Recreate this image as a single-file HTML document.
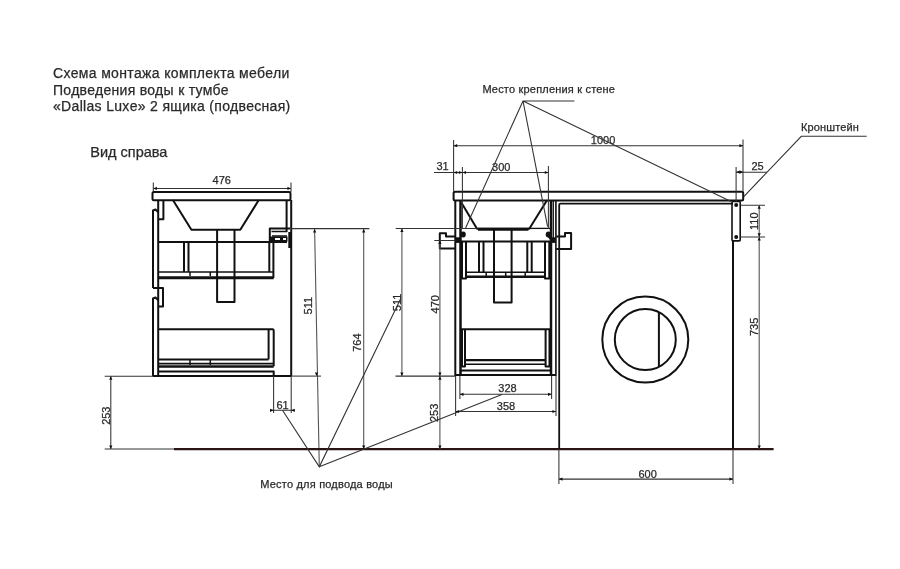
<!DOCTYPE html>
<html><head><meta charset="utf-8">
<style>
html,body{margin:0;padding:0;background:#fff;}
svg{display:block;will-change:transform;}
text{font-family:"Liberation Sans",sans-serif;fill:#2a2a2a;stroke:#2a2a2a;stroke-width:0.25;}
.m{stroke:#111;stroke-width:2;fill:none;stroke-linejoin:round;}
.d{stroke:#333;stroke-width:1.05;fill:none;}
.g{stroke:#555;stroke-width:1.1;fill:none;}
.l{stroke:#333;stroke-width:1.1;fill:none;}
.t{font-size:11px;}
</style></head><body>
<svg width="900" height="569" viewBox="0 0 900 569">
<rect width="900" height="569" fill="#fff"/>

<!-- TITLE -->
<text x="53" y="78.3" style="font-size:14px;letter-spacing:0.35px">Схема монтажа комплекта мебели</text>
<text x="53" y="94.6" style="font-size:14px;letter-spacing:0.3px">Подведения воды к тумбе</text>
<text x="53" y="110.6" style="font-size:14px;letter-spacing:0.32px">«Dallas Luxe» 2 ящика (подвесная)</text>
<text x="90.3" y="156.9" style="font-size:14.5px;letter-spacing:0px">Вид справа</text>

<!-- ============ LEFT CABINET ============ -->
<g id="lc">
  <!-- dim 476 -->
  <path class="d" d="M153.3,182.5V192 M291,182.5V192 M153.3,188.4H291"/>
  <text class="t" x="221.7" y="184.4" text-anchor="middle">476</text>
  <!-- countertop -->
  <rect class="m" x="152.5" y="192" width="138" height="8.2" rx="1.5"/>
  <!-- left side -->
  <path class="m" d="M153,376V298.5 L155.5,297.5 L158,300"/>
  <path class="m" d="M153,288V210.5 L155.5,209.5 L158,212"/>
  <path class="m" d="M158.2,200V376"/>
  <path class="m" d="M158.2,219.2H163.4V200"/>
  <path class="m" d="M153,288H163V306.6H158.2"/>
  <!-- basin -->
  <path class="m" d="M172.9,200L191.4,229.8H240.3L258.8,200"/>
  <!-- pipe -->
  <path class="m" d="M217.1,229.8V302H234.5V229.8"/>
  <!-- drawer 1 -->
  <path class="m" d="M158.2,242H287"/>
  <path class="m" d="M184,242V272 M188.5,242V272"/>
  <path class="m" d="M269.3,242V272 M273.4,242V278"/>
  <path class="m" style="stroke-width:1.6" d="M158.2,272H273.7"/>
  <path class="m" style="stroke-width:3" d="M158.2,277.7H273.7"/>
  <path class="m" style="stroke-width:1.5" d="M190,272V276 M210.3,272V276"/>
  <!-- right side -->
  <path class="m" d="M286.6,200V232 M289.3,232V248 M291.2,200V376"/>
  <!-- bracket -->
  <path class="m" d="M269.8,242V228.5H290"/>
  <path class="m" style="stroke-width:1.5" d="M271.5,231.5H287 M272,236H287"/>
  <rect x="270" y="236.5" width="17.5" height="5" fill="#111"/>
  <rect x="275" y="238" width="5" height="2" fill="#fff"/>
  <rect x="283" y="238" width="3" height="2" fill="#fff"/>
  <!-- drawer 2 -->
  <path class="m" d="M158.2,329.2H272.5Q273.7,329.2 273.7,330.5V366.3"/>
  <path class="m" d="M268.6,329.2V359.4"/>
  <path class="m" d="M158.2,359.6H268.6"/>
  <path class="m" style="stroke-width:1.6" d="M158.2,363.6H273.7"/>
  <path class="m" style="stroke-width:2.4" d="M158.2,366.5H273.7"/>
  <path class="m" style="stroke-width:1.5" d="M190,360V365 M210.3,360V365"/>
  <path class="m" d="M158.2,371.4H273.7V376"/>
  <path class="m" d="M153,376H291.2"/>
  <!-- dims -->
  <path class="d" d="M291.2,228.6H369.4"/>
  <path class="g" d="M314.6,229L319.3,466.8"/>
  <path class="g" d="M363.7,229V449"/>
  <path class="d" d="M291.2,376.1H321"/>
  <text class="t" transform="translate(312.3,305.7) rotate(-90)" text-anchor="middle">511</text>
  <text class="t" transform="translate(361.3,342.6) rotate(-90)" text-anchor="middle">764</text>
  <!-- 253 left -->
  <path class="d" d="M104.7,376.2H153 M110.8,376.2V449 "/>
  <path d="M104.7,449H174" stroke="#333" stroke-width="1.2"/>
  <text class="t" transform="translate(109.6,415.7) rotate(-90)" text-anchor="middle">253</text>
  <!-- 61 -->
  <path class="d" d="M273.6,376V413 M291.2,376V413 M270,410.3H294.8"/>
  <text class="t" x="282.5" y="409" text-anchor="middle">61</text>
</g>

<!-- FLOOR -->
<path d="M174,449.1H773.6" stroke="#2a1414" stroke-width="2.2"/>

<!-- ============ MIDDLE CABINET ============ -->
<g id="mc">
  <!-- countertop -->
  <rect class="m" x="453.6" y="191.8" width="289.6" height="8.6" rx="1.5"/>
  <!-- sides -->
  <path class="m" d="M455.3,200V376"/>
  <path class="m" style="stroke-width:2.5" d="M460.5,200V376"/>
  <path class="m" style="stroke-width:2.5" d="M551,200V376"/>
  <path class="m" style="stroke-width:1.6" d="M555.9,200V376"/>
  <!-- basin -->
  <path class="m" d="M461.6,203L477,228.8H529.3L547,200.3"/>
  <path class="m" style="stroke-width:1.3" d="M528,228.4H551"/>
  <path class="m" style="stroke-width:3" d="M478,229.3H528.4"/>
  <!-- pipe -->
  <path class="m" d="M494,229.5V302.6H511.6V229.5"/>
  <!-- drawer 1 -->
  <path class="m" d="M455.3,241.5H556"/>
  <path class="m" d="M462,241.5V278.5H466V241.5 M545,241.5V278.5H549.3V241.5"/>
  <path class="m" d="M479,241.5V273 M483.5,241.5V273 M527.3,241.5V273 M531.7,241.5V273"/>
  <path class="m" style="stroke-width:1.5" d="M466,272.3H545"/>
  <path class="m" style="stroke-width:2.6" d="M466,276.7H545"/>
  <path class="m" style="stroke-width:1.5" d="M486.2,273V276 M505.7,273V276 M525.2,273V276"/>
  <!-- drawer 2 -->
  <path class="m" d="M460.5,329.2H551"/>
  <path class="m" d="M462,329.5V366.5H465V329.5 M545.6,329.5V366.5H549.5V329.5"/>
  <path class="m" style="stroke-width:2.2" d="M465,360.2H545.6"/>
  <path class="m" style="stroke-width:1.6" d="M465,364.3H545.6"/>
  <path class="m" d="M460.5,370.4H551"/>
  <path class="m" d="M455.3,375H556"/>
  <path class="m" style="stroke-width:1.3" d="M553.3,200V241.5"/>
  <rect x="455" y="237.3" width="6" height="5.5" fill="#111"/>
  <rect x="550" y="237.3" width="6" height="5.5" fill="#111"/>
  <path class="m" style="stroke-width:2.5" d="M548.5,236L553,241.5"/>
  <!-- blobs -->
  <ellipse cx="463.2" cy="234.4" rx="2.6" ry="3" fill="#111"/>
  <ellipse cx="548.3" cy="234.6" rx="2.6" ry="3" fill="#111"/>
  <!-- brackets -->
  <path class="m" d="M455.3,236.4H446V233.2H439.8V248.5H455.3"/>
  <path class="m" d="M556.2,236.4H565V232.9H571.1V248.9H556.2"/>
</g>

<!-- ============ WASHER ============ -->
<g id="wm">
  <path class="m" style="stroke-width:1.8" d="M559.2,449V205Q559.2,203.7 560.5,203.7H733"/>
  <path class="m" d="M733,241V449"/>
  <circle class="m" cx="645.3" cy="339.6" r="43"/>
  <circle class="m" cx="645.3" cy="339.6" r="30.5"/>
  <path class="m" d="M658.9,312.2V367"/>
  <!-- bracket -->
  <rect class="m" style="stroke-width:1.6" x="732" y="201.5" width="8.2" height="39.4" rx="1"/>
  <circle cx="736.2" cy="205" r="2" fill="#111"/>
  <circle cx="736.2" cy="236.9" r="2" fill="#111"/>
</g>

<!-- ============ DIMENSIONS (right) ============ -->
<g>
  <!-- 1000 -->
  <path class="d" d="M453.6,140V192 M743,139.5V192 M453.6,145.7H743"/>
  <text class="t" x="603.1" y="144" text-anchor="middle">1000</text>
  <!-- 31 / 300 -->
  <path class="d" d="M434,172.5H548.4 M462.4,167V229 M548.4,166V229"/>
  <text class="t" x="442.5" y="170.2" text-anchor="middle">31</text>
  <text class="t" x="501.3" y="170.5" text-anchor="middle">300</text>
  <!-- 25 -->
  <path class="d" d="M736.1,167V201.5 M736.1,172.2H767"/>
  <text class="t" x="757.6" y="170" text-anchor="middle">25</text>
  <!-- 110 / 735 -->
  <path class="d" d="M740.5,205.2H765 M740.5,236.9H765"/>
  <path class="g" d="M759.2,205V449"/>
  <text class="t" transform="translate(757.7,221.2) rotate(-90)" text-anchor="middle">110</text>
  <text class="t" transform="translate(757.7,326.9) rotate(-90)" text-anchor="middle">735</text>
  <!-- 600 -->
  <path class="d" d="M558.9,449V484 M733,449V484 M558.9,479.1H733"/>
  <text class="t" x="647.6" y="477.6" text-anchor="middle">600</text>
  <!-- 328 / 358 -->
  <path class="d" d="M459.9,376V399 M551.6,376V399 M459.9,394.3H551.6"/>
  <text class="t" x="507.5" y="392.4" text-anchor="middle">328</text>
  <path class="d" d="M455.6,376V416 M556,376V416 M455.6,411.5H556"/>
  <text class="t" x="506" y="410" text-anchor="middle">358</text>
  <!-- 470 / 253 mid -->
  <path class="g" d="M439.9,240.5V449"/>
  <path class="d" d="M434.3,240.5H455.3 M395.5,376.1H455.3"/>
  <text class="t" transform="translate(439,304.3) rotate(-90)" text-anchor="middle">470</text>
  <text class="t" transform="translate(438.2,412.9) rotate(-90)" text-anchor="middle">253</text>
  <!-- 511 mid -->
  <path class="g" d="M401.9,228.5V376.1"/>
  <path class="d" d="M395.7,228.5H477"/>
  <text class="t" transform="translate(400.8,302.4) rotate(-90)" text-anchor="middle">511</text>
</g>

<!-- ============ LEADERS ============ -->
<g>
  <text x="482.4" y="93.2" style="font-size:11px;letter-spacing:0.19px">Место крепления к стене</text>
  <path class="l" d="M574.4,101H523L465.6,228 M523,101L547.6,226.7 M523,101L731,201.5"/>
  <text x="801" y="130.7" style="font-size:11px;letter-spacing:0.13px">Кронштейн</text>
  <path class="l" d="M866.7,136.3H801.3L743.8,196.6"/>
  <text x="260.3" y="487.6" style="font-size:11px;letter-spacing:0.2px">Место для подвода воды</text>
  <path class="l" d="M282.5,410.3L319.3,466.8L401,298 M319.3,466.8L502,394.5"/>
</g>
<!-- ARROWS -->
<path fill="#111" d="M153.3,188.4 L156.9,186.8 L156.9,190.0Z M291.0,188.4 L287.4,186.8 L287.4,190.0Z M453.6,145.7 L457.2,144.1 L457.2,147.3Z M743.0,145.7 L739.4,144.1 L739.4,147.3Z M453.6,172.5 L457.2,170.9 L457.2,174.1Z M462.4,172.5 L458.8,170.9 L458.8,174.1Z M462.4,172.5 L466.0,170.9 L466.0,174.1Z M548.4,172.5 L544.8,170.9 L544.8,174.1Z M736.2,172.1 L739.8,170.5 L739.8,173.7Z M743.3,172.1 L739.7,170.5 L739.7,173.7Z M314.6,229.0 L313.0,232.6 L316.2,232.6Z M316.5,376.0 L314.9,372.4 L318.1,372.4Z M363.7,229.0 L362.1,232.6 L365.3,232.6Z M363.7,449.0 L362.1,445.4 L365.3,445.4Z M110.8,376.2 L109.2,379.8 L112.4,379.8Z M110.8,449.0 L109.2,445.4 L112.4,445.4Z M273.6,410.3 L270.0,408.7 L270.0,411.9Z M291.2,410.3 L294.8,408.7 L294.8,411.9Z M759.2,205.2 L757.6,208.8 L760.8,208.8Z M759.2,236.9 L757.6,233.3 L760.8,233.3Z M759.2,236.9 L757.6,240.5 L760.8,240.5Z M759.2,449.0 L757.6,445.4 L760.8,445.4Z M558.9,479.1 L562.5,477.5 L562.5,480.7Z M733.0,479.1 L729.4,477.5 L729.4,480.7Z M459.9,394.3 L463.5,392.7 L463.5,395.9Z M551.6,394.3 L548.0,392.7 L548.0,395.9Z M455.6,411.5 L459.2,409.9 L459.2,413.1Z M556.0,411.5 L552.4,409.9 L552.4,413.1Z M439.9,240.5 L438.3,244.1 L441.5,244.1Z M439.9,376.1 L438.3,372.5 L441.5,372.5Z M439.9,376.1 L438.3,379.7 L441.5,379.7Z M439.9,449.0 L438.3,445.4 L441.5,445.4Z M401.9,228.5 L400.3,232.1 L403.5,232.1Z M401.9,376.1 L400.3,372.5 L403.5,372.5Z"/>
</svg>
</body></html>
